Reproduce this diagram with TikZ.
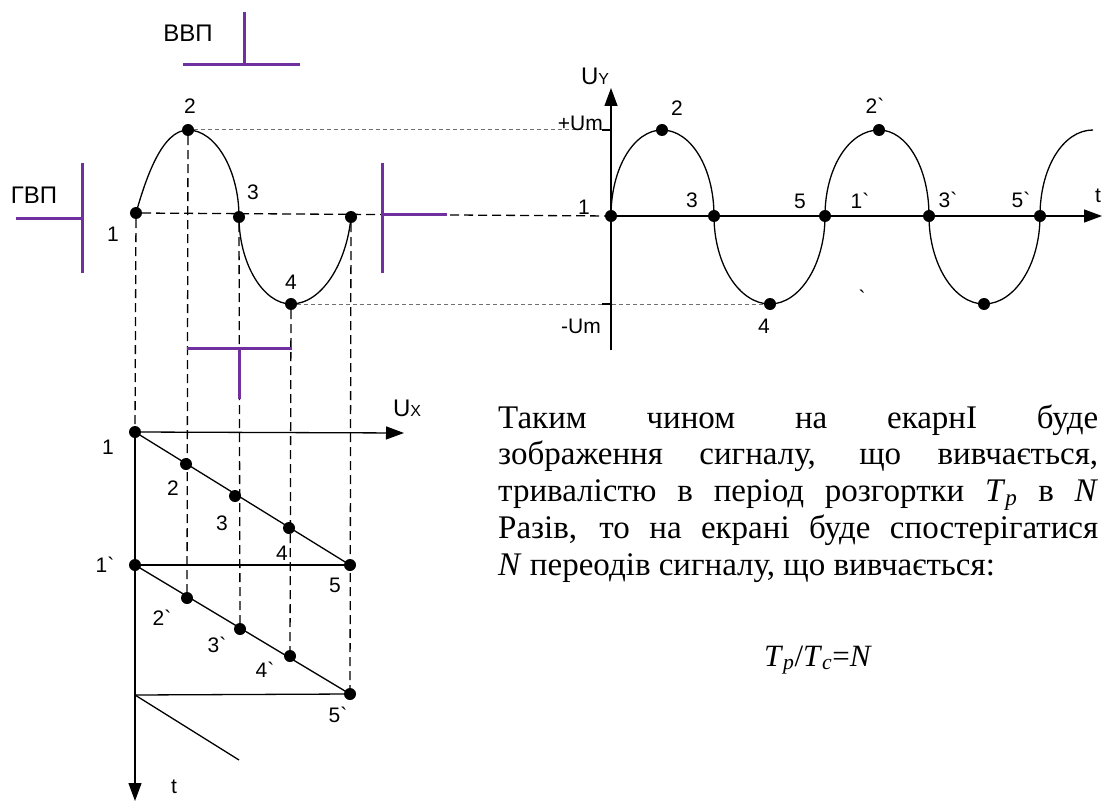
\documentclass[tikz,border=0pt]{standalone}
\usepackage{fontspec}
\setmainfont{Liberation Serif}
\newfontfamily\lbf{Liberation Sans}
\usetikzlibrary{arrows.meta}
\definecolor{vio}{HTML}{7030A0}
\definecolor{dgray}{HTML}{707070}
\newcommand{\smx}[1]{{\fontsize{16}{16}\selectfont #1}}
\tikzset{
  dot/.style={circle,fill=black,inner sep=0pt,minimum size=12pt},
  lbl/.style={inner sep=0pt,font=\lbf\fontsize{21}{21}\selectfont},
  blbl/.style={lbl,font=\lbf\fontsize{24}{24}\selectfont},
  crv/.style={line width=1.3pt},
  dsh/.style={line width=1.3pt,dash pattern=on 9pt off 5pt},
  dtt/.style={line width=1pt,draw=dgray,dash pattern=on 4pt off 3pt},
  vl/.style={draw=vio,line width=3pt},
  ax/.style={line width=1.3pt,-{Triangle[length=18pt,width=13pt]}},
  txt/.style={anchor=base west,inner sep=0pt,text width=600pt,align=justify,
    font=\fontsize{33}{36.8}\selectfont},
}

\begin{document}
\begin{tikzpicture}[x=1pt,y=-1pt]
\useasboundingbox (0,0) rectangle (1102,802);
% input signal
\node[dot] (a1) at (136,213) {};
\node[dot] (a2) at (188,130) {};
\node[dot] (a3) at (239,217) {};
\node[dot] (a4) at (291,304) {};
\node[dot] (a5) at (351,217) {};
% sweep
\node[dot] (s1) at (135,432) {};
\node[dot] (s2) at (186,464) {};
\node[dot] (s3) at (235,496) {};
\node[dot] (s4) at (289,528) {};
\node[dot] (s5) at (350,565) {};
\node[dot] (q1) at (135,565) {};
\node[dot] (q2) at (187,598) {};
\node[dot] (q3) at (240,629) {};
\node[dot] (q4) at (290,656) {};
\node[dot] (q5) at (350,694) {};
\coordinate (w0) at (135,695);
\coordinate (wend) at (239,760);
\coordinate (uxend) at (404,433);
\coordinate (tbot) at (135,801);
% screen
\node[dot] (r1) at (611,216) {};
\node[dot] (r2) at (662,130) {};
\node[dot] (r3) at (714,216) {};
\node[dot] (r4) at (770,304) {};
\node[dot] (r5) at (825,216) {};
\node[dot] (p2) at (879,130) {};
\node[dot] (p3) at (929,216) {};
\node[dot] (p4) at (984,304) {};
\node[dot] (p5) at (1040,216) {};
\coordinate (pend) at (1093,130);
\coordinate (ytop) at (611,88);
\coordinate (ybot) at (611,350);
\coordinate (tend) at (1102,216);
\coordinate (um) at (611,130);

% projection lines
\draw[dtt] (a2) -- (um);
\draw[dtt] (a4) -- (r4);
\draw[crv] (um) -- ++(-9,0);
\draw[crv] (611,304) -- ++(-9,0);
\draw[dsh] (a1) -- (r1);
\draw[dsh] (a1) -- (s1);
\draw[dsh] (a2) -- (q2);
\draw[dsh] (a3) -- (q3);
\draw[dsh] (a4) -- (q4);
\draw[dsh] (a5) -- (q5);

% curves
\draw[crv] (a1.center) .. controls +(10,-35) and +(-26,0) .. (a2.center)
  .. controls +(28,0) and +(0,-46) .. (a3.center)
  .. controls +(0,46) and +(-28,0) .. (a4.center)
  .. controls +(32,0) and +(-4,44) .. (a5.center);
\draw[crv] (r1.center) .. controls +(0,-48) and +(-28,0) .. (r2.center)
  .. controls +(29,0) and +(0,-48) .. (r3.center)
  .. controls +(0,48) and +(-31,0) .. (r4.center)
  .. controls +(30,0) and +(0,48) .. (r5.center)
  .. controls +(0,-48) and +(-30,0) .. (p2.center)
  .. controls +(28,0) and +(0,-48) .. (p3.center)
  .. controls +(0,48) and +(-30,0) .. (p4.center)
  .. controls +(31,0) and +(0,48) .. (p5.center)
  .. controls +(0,-48) and +(-30,0) .. (pend);

% sawtooth
\draw[crv] (s1.center) -- (s5.center);
\draw[crv] (q1.center) -- (s5.center);
\draw[crv] (q1.center) -- (q5.center);
\draw[crv] (w0) -- (q5.center);
\draw[crv] (w0) -- (wend);
\draw[ax] (s1.center) -- (uxend);
\draw[ax] (s1.center) -- (tbot);
\draw[ax] (ybot) -- (ytop);
\draw[ax] (r1.center) -- (tend);

% plates
\draw[vl] (244,12) -- (244,65) (183,65) -- (300,65);
\draw[vl] (82,163) -- (82,273) (16,219) -- (82,219);
\draw[vl] (382,163) -- (382,273) (382,215) -- (447,215);
\draw[vl] (187,348) -- (292,348) (239,348) -- (239,399);

% labels
\node[blbl] (tv) at (188,33) {ВВП};
\node[blbl] (th) at (34,195) {ГВП};
\node[lbl] (la1) at (113,234) {1};
\node[lbl] (la2) at (190,106) {2};
\node[lbl] (la3) at (253,192) {3};
\node[lbl] (la4) at (291,282) {4};
\node[lbl] (ls1) at (108,447) {1};
\node[lbl] (ls2) at (173,488) {2};
\node[lbl] (ls3) at (222,523) {3};
\node[lbl] (ls4) at (282,553) {4};
\node[lbl] (ls5) at (335,585) {5};
\node[lbl] (lq1) at (105,565) {1`};
\node[lbl] (lq2) at (162,618) {2`};
\node[lbl] (lq3) at (217,645) {3`};
\node[lbl] (lq4) at (265,670) {4`};
\node[lbl] (lq5) at (338,715) {5`};
\node[lbl] (lt) at (174,787) {t};
\node[blbl] (lux) at (407,408) {U\smx{X}};
\node[blbl] (luy) at (595,76) {U\smx{Y}};
\node[lbl,anchor=east] (lup) at (603,123) {+Um};
\node[lbl,anchor=east] (lun) at (601,326) {-Um};
\node[lbl] (lr1) at (584,207) {1};
\node[lbl] (lr2) at (677,108) {2};
\node[lbl] (lr3) at (692,200) {3};
\node[lbl] (lr4) at (764,326) {4};
\node[lbl] (lr5) at (800,201) {5};
\node[lbl] (lp1) at (860,201) {1`};
\node[lbl] (lp2) at (875,106) {2`};
\node[lbl] (lp3) at (948,200) {3`};
\node[lbl] (lp5) at (1021,200) {5`};
\node[lbl] (ltt) at (1098,196) {t};
\node[lbl] (lst) at (862,298) {`};

% text
\node[txt] (body) at (498,428) {Таким чином на екарнІ буде\linebreak
зображення сигналу, що вивчається,\linebreak
тривалістю в період розгортки \textit{T}\textsubscript{\textit{p}} в \textit{N}\linebreak
Разів, то на екрані буде спостерігатися\linebreak
\textit{N} переодів сигналу, що вивчається:};
\node[anchor=base,inner sep=0pt,font=\fontsize{31}{31}\selectfont] (ratio) at (818,666)
  {\textit{T}\textsubscript{\textit{p}}/\textit{T}\textsubscript{\textit{c}}=\textit{N}};
\end{tikzpicture}
\end{document}
